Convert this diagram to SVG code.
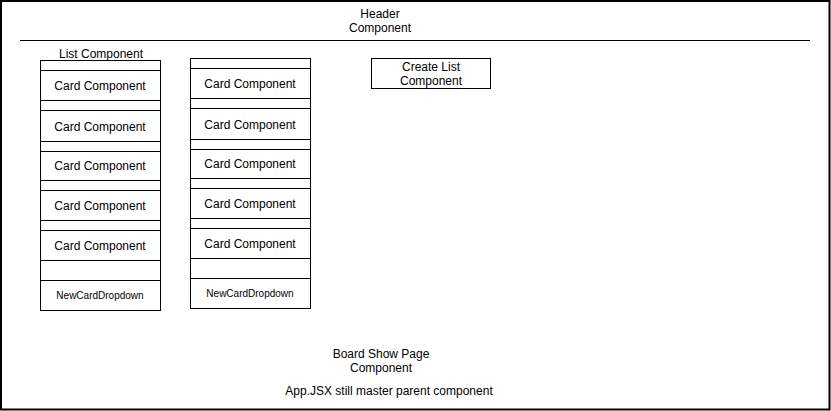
<svg xmlns="http://www.w3.org/2000/svg" width="831" height="411" viewBox="0 0 831 411">
  <style>
    .box { fill: #ffffff; stroke: #000000; stroke-width: 1; }
    .ln { stroke: #000000; stroke-width: 1; fill: none; }
    text { font-family: "Liberation Sans", Arial, sans-serif; font-size: 12px; fill: #000000; text-anchor: middle; }
    .small { font-size: 10px; }
  </style>
  <rect x="0" y="0" width="831" height="411" fill="#ffffff"/>
  <g id="board">
    <rect x="1" y="1" width="828.5" height="408.5" fill="#ffffff" stroke="#000000" stroke-width="2"/>
    <text x="381" y="358">Board Show Page</text>
    <text x="381" y="372">Component</text>
    <text x="389" y="395">App.JSX still master parent component</text>
  </g>
  <g id="header">
    <text x="380" y="18">Header</text>
    <text x="380" y="32">Component</text>
  </g>
  <g id="connectors">
    <line class="ln" x1="20" y1="40.5" x2="810" y2="40.5"/>
  </g>
  <g id="list1">
    <text x="101" y="58">List Component</text>
    <rect class="box" x="40.5" y="60.5" width="120" height="250"/>
    <line class="ln" x1="40.5" y1="70.5" x2="160.5" y2="70.5"/>
    <line class="ln" x1="40.5" y1="260.5" x2="160.5" y2="260.5"/>
  </g>
  <g id="list1-card1"><rect class="box" x="40.5" y="70.5" width="120" height="30"/><text x="100" y="90">Card Component</text></g>
  <g id="list1-card2"><rect class="box" x="40.5" y="110.5" width="120" height="31"/><text x="100" y="131">Card Component</text></g>
  <g id="list1-card3"><rect class="box" x="40.5" y="151.5" width="120" height="29"/><text x="100" y="170">Card Component</text></g>
  <g id="list1-card4"><rect class="box" x="40.5" y="190.5" width="120" height="30"/><text x="100" y="210">Card Component</text></g>
  <g id="list1-card5"><rect class="box" x="40.5" y="230.5" width="120" height="30"/><text x="100" y="250">Card Component</text></g>
  <g id="list1-dropdown"><rect class="box" x="40.5" y="280.5" width="120" height="30"/><text class="small" x="100" y="299">NewCardDropdown</text></g>

  <g id="list2">
    <rect class="box" x="190.5" y="58.5" width="120" height="250"/>
    <line class="ln" x1="190.5" y1="68.5" x2="310.5" y2="68.5"/>
    <line class="ln" x1="190.5" y1="258.5" x2="310.5" y2="258.5"/>
  </g>
  <g id="list2-card1"><rect class="box" x="190.5" y="68.5" width="120" height="30"/><text x="250" y="88">Card Component</text></g>
  <g id="list2-card2"><rect class="box" x="190.5" y="108.5" width="120" height="31"/><text x="250" y="129">Card Component</text></g>
  <g id="list2-card3"><rect class="box" x="190.5" y="149.5" width="120" height="29"/><text x="250" y="168">Card Component</text></g>
  <g id="list2-card4"><rect class="box" x="190.5" y="188.5" width="120" height="30"/><text x="250" y="208">Card Component</text></g>
  <g id="list2-card5"><rect class="box" x="190.5" y="228.5" width="120" height="30"/><text x="250" y="248">Card Component</text></g>
  <g id="list2-dropdown"><rect class="box" x="190.5" y="278.5" width="120" height="30"/><text class="small" x="250" y="297">NewCardDropdown</text></g>

  <g id="create-list">
    <rect class="box" x="371.5" y="58.5" width="119" height="30"/>
    <text x="431" y="71">Create List</text>
    <text x="431" y="85">Component</text>
  </g>
</svg>
